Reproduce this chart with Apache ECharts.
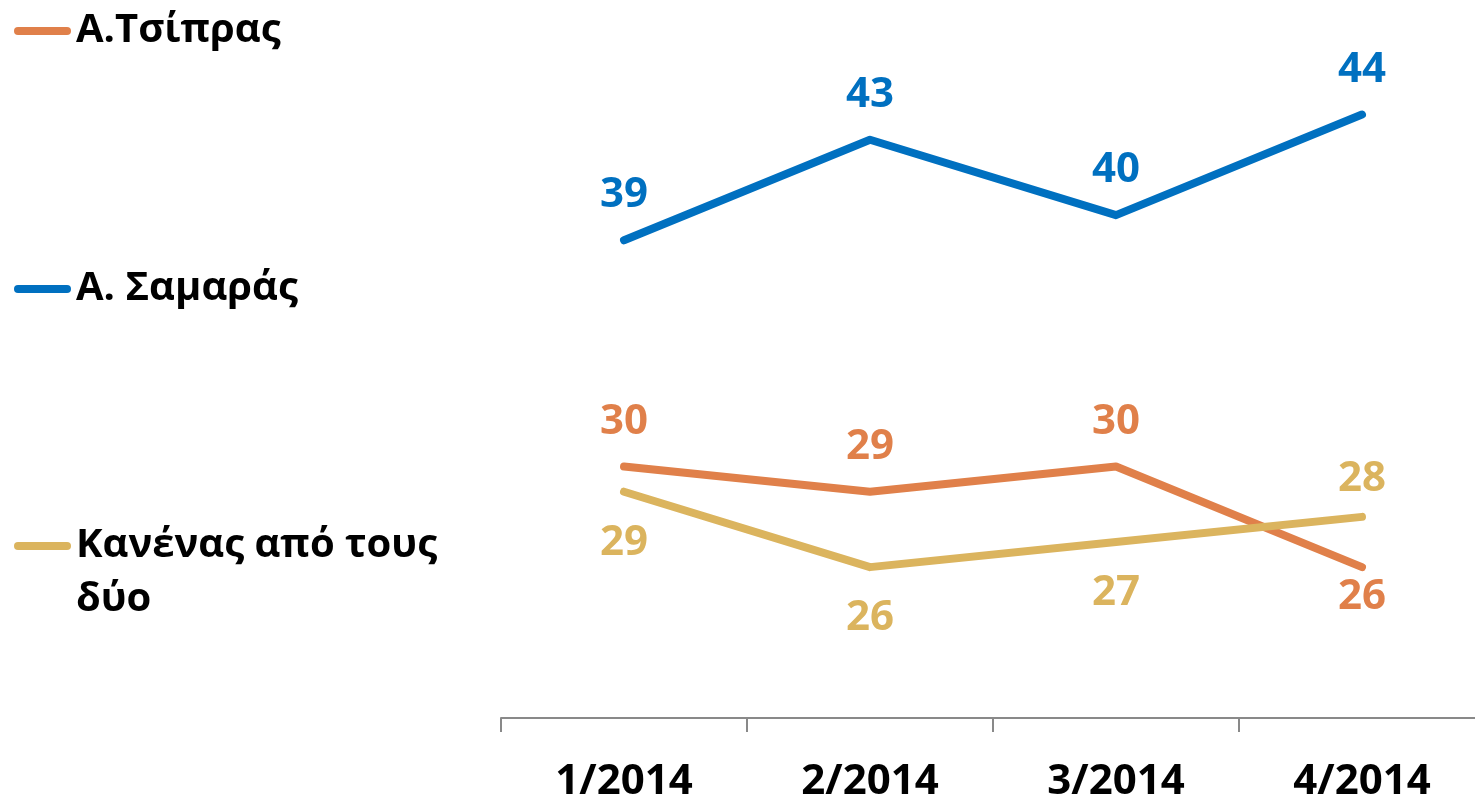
<!DOCTYPE html>
<html>
<head>
<meta charset="utf-8">
<script src="https://cdn.jsdelivr.net/npm/echarts@6/dist/echarts.min.js"></script>
<style>
  html, body { margin: 0; padding: 0; background: #fff; }
  #chart { width: 1475px; height: 803px; }
</style>
</head>
<body>
<div id="chart"></div>
<script>
// data
var months = ['1/2014', '2/2014', '3/2014', '4/2014'];
var tsipras = [30, 29, 30, 26];
var samaras = [39, 43, 40, 44];
var kanenas = [29, 26, 27, 28];

// where each value label sits (above / below the point)
var tsiprasPos = ['top', 'top', 'top', 'bottom'];
var kanenasPos = ['bottom', 'bottom', 'bottom', 'top'];

var FONT = '"Open Sans", "Noto Sans", sans-serif';
var BLUE = '#0070C0', ORANGE = '#E0804A', GOLD = '#DBB45E';

// rounded bar used as the legend key
var KEY = 'path://M4,0 H53 A4,4 0 0 1 53,8 H4 A4,4 0 0 1 4,0 Z';

function withLabels(values, positions, distances) {
    var out = [];
    for (var i = 0; i < values.length; i++) {
        var p = positions ? positions[i] : 'top';
        out.push({
            value: values[i],
            label: { position: p, distance: distances[p === 'top' ? 0 : 1] }
        });
    }
    return out;
}

function lineSeries(name, data, color) {
    return {
        name: name,
        type: 'line',
        data: data,
        symbol: 'circle',
        symbolSize: 2,
        color: color,
        lineStyle: { color: color, width: 8, cap: 'round', join: 'round' },
        itemStyle: { color: color },
        label: {
            show: true,
            color: color,
            fontFamily: FONT,
            fontWeight: 'bold',
            fontSize: 42,
            lineHeight: 42
        },
        emphasis: { disabled: true },
        animation: false
    };
}

function legendAt(name, top, text) {
    var lg = {
        data: [{ name: name, icon: KEY }],
        left: 14,
        top: top,
        padding: 0,
        itemWidth: 57,
        itemHeight: 8,
        itemGap: 0,
        selectedMode: false,
        textStyle: {
            color: '#000',
            fontFamily: FONT,
            fontWeight: 'bold',
            fontSize: 40,
            lineHeight: 54
        }
    };
    if (text) {
        lg.formatter = function () { return text; };
    }
    return lg;
}

var kanenasName = 'Κανένας από τους δύο';

var option = {
    backgroundColor: '#fff',
    animation: false,
    legend: [
        legendAt('Α.Τσίπρας', 4),
        legendAt('Α. Σαμαράς', 262),
        // empty first line keeps the key level with "Κανένας από τους"
        legendAt(kanenasName, 465, '\nΚανένας από τους\nδύο')
    ],
    grid: { left: 501, top: 14, width: 984, bottom: 85, outerBoundsMode: 'none', containLabel: false },
    xAxis: {
        type: 'category',
        data: months,
        boundaryGap: true,
        axisLine: { lineStyle: { color: '#898989', width: 2 } },
        axisTick: { show: true, length: 14, interval: 0, lineStyle: { color: '#898989', width: 2 } },
        axisLabel: {
            color: '#000',
            fontFamily: FONT,
            fontWeight: 'bold',
            fontSize: 42,
            lineHeight: 42,
            margin: 43
        }
    },
    yAxis: {
        type: 'value',
        min: 20,
        max: 48,
        show: false,
        splitLine: { show: false }
    },
    series: [
        lineSeries('Α.Τσίπρας', withLabels(tsipras, tsiprasPos, [23, 8]), ORANGE),
        lineSeries('Α. Σαμαράς', withLabels(samaras, null, [23, 23]), BLUE),
        lineSeries(kanenasName, withLabels(kanenas, kanenasPos, [16, 29]), GOLD)
    ]
};

var myChart = echarts.init(document.getElementById('chart'));
myChart.setOption(option);
</script>
</body>
</html>
